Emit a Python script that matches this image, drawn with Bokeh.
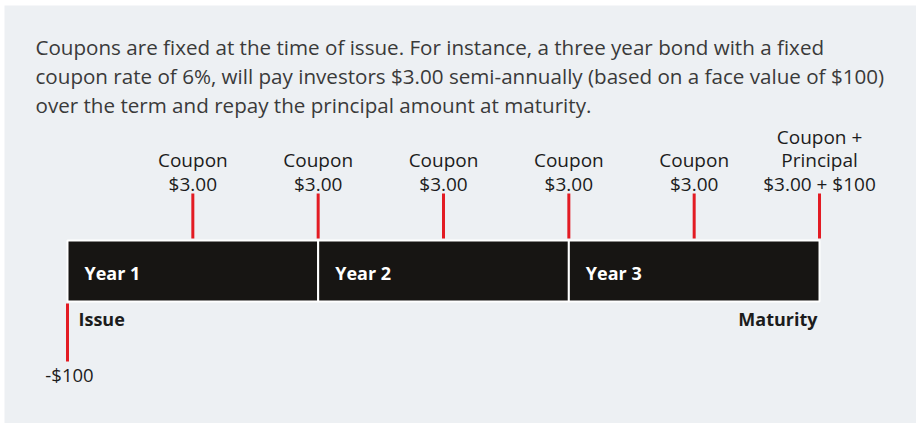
from bokeh.plotting import figure
from bokeh.models import Range1d
from bokeh.core.properties import value
from bokeh.embed import file_html
from bokeh.resources import INLINE

# ---- data ----
intro_lines = [
    "Coupons are fixed at the time of issue. For instance, a three year bond with a fixed",
    "coupon rate of 6%, will pay investors $3.00 semi-annually (based on a face value of $100)",
    "over the term and repay the principal amount at maturity.",
]
pay_times = [0.5, 1.0, 1.5, 2.0, 2.5, 3.0]
pay_titles = [["Coupon"], ["Coupon"], ["Coupon"], ["Coupon"], ["Coupon"], ["Coupon +", "Principal"]]
pay_amounts = ["$3.00", "$3.00", "$3.00", "$3.00", "$3.00", "$3.00 + $100"]
year_labels = ["Year 1", "Year 2", "Year 3"]
year_starts = [0, 1, 2]
year_ends = [1, 2, 3]
issue_time = 0
issue_label = "Issue"
issue_amount = "-$100"
maturity_time = 3
maturity_label = "Maturity"

# ---- layout ----
W, H = 916, 423
px_per_year = 250.67
x0 = 67.0
FONT = "Open Sans"
RED = "#e31b23"
BAR = "#171513"
BG = "#edf0f3"


def px(v):
    return (v - x0) / px_per_year


p = figure(width=W, height=H, output_backend="svg", toolbar_location=None,
           x_range=Range1d(px(0), px(W)), y_range=Range1d(H, 0), min_border=0)
p.axis.visible = False
p.grid.visible = False
p.outline_line_color = None
p.background_fill_color = "white"
p.border_fill_color = "white"

# panel
p.quad(left=[px(4)], right=[px(W + 20)], top=[5], bottom=[H + 20],
       fill_color=BG, line_color=None)

# intro paragraph
p.text(x=[px(35)] * 3, y=[46, 75, 104], text=intro_lines,
       text_font=value(FONT), text_font_size="20.6px", text_color="#3a3a3a",
       text_baseline="middle", text_align="left")

# year bars
bar_top, bar_bot = 240, 301
p.quad(left=year_starts, right=year_ends, top=[bar_top] * 3, bottom=[bar_bot] * 3,
       fill_color=BAR, line_color="white", line_width=2)
p.text(x=year_starts, y=[272] * 3, text=year_labels, x_offset=17,
       text_font=value(FONT), text_font_style="bold", text_font_size="18px",
       text_color="white", text_baseline="middle", text_align="left")

# payment ticks
p.segment(x0=pay_times, x1=pay_times, y0=[193] * 6, y1=[238] * 6,
          line_color=RED, line_width=3)

# payment labels
lx, ly, lt = [], [], []
for t, titles, amt in zip(pay_times, pay_titles, pay_amounts):
    lines = titles + [amt]
    n = len(lines)
    for i, s in enumerate(lines):
        lx.append(t)
        ly.append(183 - 23.5 * (n - 1 - i))
        lt.append(s)
p.text(x=lx, y=ly, text=lt, text_font=value(FONT), text_font_size="19px",
       text_color="#1c1c1c", text_baseline="middle", text_align="center")

# issue
p.segment(x0=[issue_time], x1=[issue_time], y0=[303], y1=[361], line_color=RED, line_width=3)
p.text(x=[issue_time], y=[318], text=[issue_label], x_offset=11,
       text_font=value(FONT), text_font_style="bold", text_font_size="18px",
       text_color="#1c1c1c", text_baseline="middle", text_align="left")
p.text(x=[issue_time], y=[374], text=[issue_amount], x_offset=2,
       text_font=value(FONT), text_font_size="18.5px",
       text_color="#1c1c1c", text_baseline="middle", text_align="center")

# maturity
p.text(x=[maturity_time], y=[318], text=[maturity_label], x_offset=-2,
       text_font=value(FONT), text_font_style="bold", text_font_size="18px",
       text_color="#1c1c1c", text_baseline="middle", text_align="right")

open("out.html", "w").write(file_html(p, INLINE))
